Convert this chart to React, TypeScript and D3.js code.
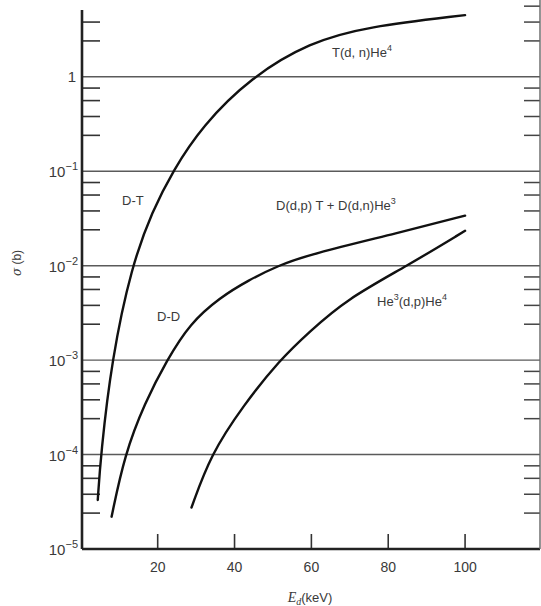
import React from "react";
import * as d3 from "d3";

// ---- data ----
const xTicks = [20, 40, 60, 80, 100];
const decades = [-5, -4, -3, -2, -1, 0];
const minorMultipliers = [2.4, 3.8, 5.6, 7.6];

// T(d,n)He4  (D-T)
const dtE = [4.4, 5.2, 8.0, 13.2, 18.7, 23.9, 31.5, 44.4, 59.6, 74.4, 100];
const dtSigma = [3.3e-5, 1e-4, 1e-3, 1e-2, 0.0385, 0.1, 0.30, 1, 2.32, 3.4, 4.5];

// D(d,p)T + D(d,n)He3  (D-D)
const ddE = [8.0, 11.4, 16.6, 22.4, 28.4, 36.2, 43.5, 51.3, 59.6, 83.0, 100];
const ddSigma = [2.2e-5, 1e-4, 3.5e-4, 1e-3, 2.45e-3, 4.6e-3, 6.97e-3, 1e-2, 0.0132, 0.0224, 0.0339];

// He3(d,p)He4
const he3E = [28.8, 33.8, 42.2, 51.7, 59.5, 69.1, 85, 100];
const he3Sigma = [2.75e-5, 1e-4, 3.28e-4, 1e-3, 2.0e-3, 4.4e-3, 1e-2, 0.0234];

const W = 541;
const H = 606;
const L = 82;
const R = 540;
const T = 10;
const B = 549;

const FONT = "'Liberation Sans', Arial, sans-serif";
const INK = "#3a3a3a";

export default function App() {
  const x = d3.scaleLinear().domain([0.3, 119.5]).range([L, R]);
  const y = d3.scaleLog().domain([1e-5, 5.1]).range([B, T]);

  const line = d3
    .line<[number, number]>()
    .x((d) => x(d[0]))
    .y((d) => y(d[1]))
    .curve(d3.curveBasis);

  const series = [
    dtE.map((e, i) => [e, dtSigma[i]] as [number, number]),
    ddE.map((e, i) => [e, ddSigma[i]] as [number, number]),
    he3E.map((e, i) => [e, he3Sigma[i]] as [number, number]),
  ];

  const minorVals: number[] = [];
  decades.forEach((d) => {
    minorMultipliers.forEach((m) => minorVals.push(m * Math.pow(10, d)));
  });
  const leftMinor = minorVals.filter((v) => y(v) >= T + 2);
  const rightMinor = minorVals.filter((v) => y(v) >= T - 6);

  const gridDecades = decades.filter((d) => d > -5);

  return (
    <svg
      width={W}
      height={H}
      style={{ position: "absolute", left: 0, top: 0, background: "#fff" }}
      fontFamily={FONT}
    >
      <rect x={0} y={0} width={W} height={H} fill="#fff" />
      {/* grid lines at decades */}
      {gridDecades.map((d) => (
        <line
          key={"g" + d}
          x1={L}
          x2={R}
          y1={y(Math.pow(10, d))}
          y2={y(Math.pow(10, d))}
          stroke="#5a5a5a"
          strokeWidth={1.4}
        />
      ))}
      {/* minor ticks left */}
      {leftMinor.map((v, i) => (
        <line key={"lm" + i} x1={L} x2={L + 18} y1={y(v)} y2={y(v)} stroke="#333" strokeWidth={1.6} />
      ))}
      {/* minor ticks right */}
      {rightMinor.map((v, i) => (
        <line key={"rm" + i} x1={R - 16} x2={R} y1={y(v)} y2={y(v)} stroke="#444" strokeWidth={1.5} />
      ))}
      {/* x ticks */}
      {xTicks.map((t) => (
        <g key={"xt" + t}>
          <line x1={x(t)} x2={x(t)} y1={B} y2={B - 15} stroke="#333" strokeWidth={1.6} />
          <text x={x(t)} y={B + 23} textAnchor="middle" fontSize={14} fill={INK}>
            {t}
          </text>
        </g>
      ))}
      {/* frame */}
      <line x1={L} x2={L} y1={T} y2={B} stroke="#222" strokeWidth={2.6} />
      <line x1={L} x2={R} y1={B} y2={B} stroke="#222" strokeWidth={2.6} />
      <line x1={R} x2={R} y1={T - 10} y2={B} stroke="#666" strokeWidth={1.4} />

      {/* y tick labels */}
      {decades.map((d) =>
        d === 0 ? (
          <text key={"yl" + d} x={L - 6} y={y(1) + 5} textAnchor="end" fontSize={15} fill={INK}>
            1
          </text>
        ) : (
          <text key={"yl" + d} x={L - 4} y={y(Math.pow(10, d)) + 6} textAnchor="end" fontSize={15} fill={INK}>
            10
            <tspan fontSize={11} dy={-7}>
              {"\u2212" + Math.abs(d)}
            </tspan>
          </text>
        )
      )}

      {/* curves */}
      {series.map((s, i) => (
        <path key={"c" + i} d={line(s) || ""} fill="none" stroke="#111" strokeWidth={2.4} strokeLinecap="round" />
      ))}

      {/* curve labels */}
      <text x={332} y={57} fontSize={13} fill={INK}>
        T(d, n)He
        <tspan fontSize={9} dy={-6}>4</tspan>
      </text>
      <text x={122} y={205} fontSize={13} fill={INK}>
        D-T
      </text>
      <text x={276} y={210} fontSize={13} fill={INK}>
        D(d,p) T  +  D(d,n)He
        <tspan fontSize={9} dy={-6}>3</tspan>
      </text>
      <text x={157} y={321} fontSize={13} fill={INK}>
        D-D
      </text>
      <text x={377} y={306} fontSize={13} fill={INK}>
        He
        <tspan fontSize={9} dy={-6}>3</tspan>
        <tspan dy={6}>(d,p)He</tspan>
        <tspan fontSize={9} dy={-6}>4</tspan>
      </text>

      {/* axis titles */}
      <text
        transform={`translate(21, ${263}) rotate(-90)`}
        textAnchor="middle"
        fontSize={12}
        fill={INK}
      >
        <tspan fontFamily="'DejaVu Serif', serif" fontStyle="italic">σ</tspan> (b)
      </text>
      <text x={310} y={602} textAnchor="middle" fontSize={13} fill={INK}>
        <tspan fontFamily="'Liberation Serif', serif" fontStyle="italic" fontSize={14}>E</tspan>
        <tspan fontFamily="'Liberation Serif', serif" fontStyle="italic" fontSize={10} dy={3}>d</tspan>
        <tspan dy={-3}>(keV)</tspan>
      </text>
    </svg>
  );
}
